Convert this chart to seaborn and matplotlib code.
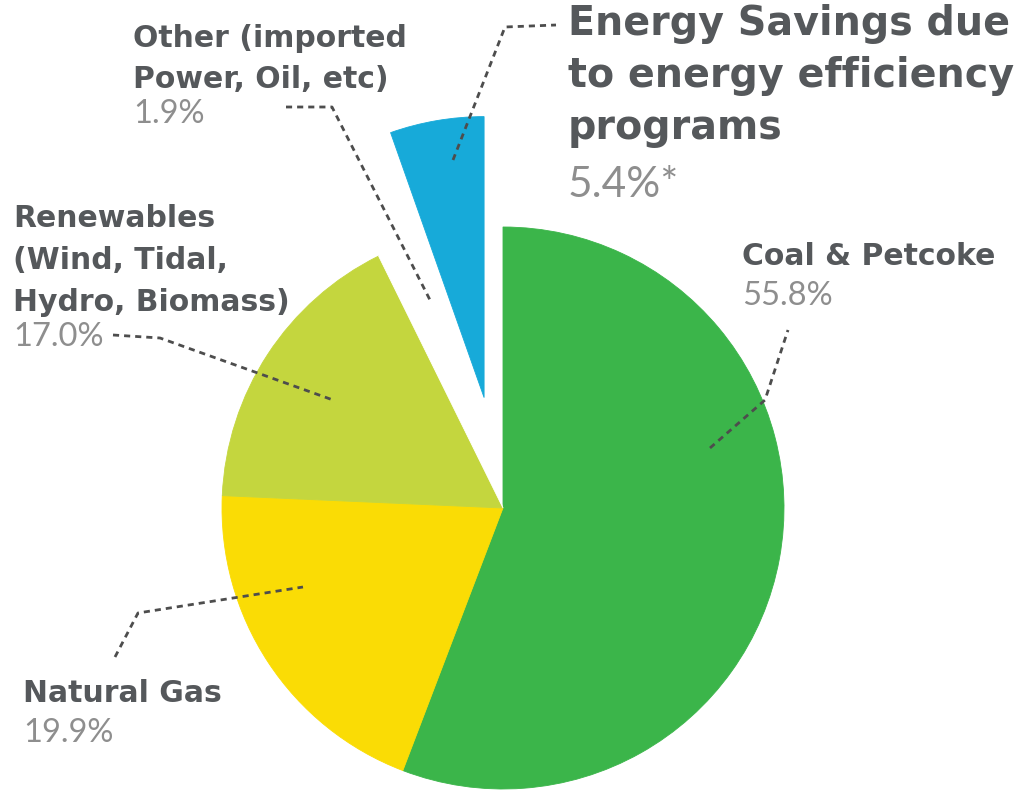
import matplotlib
matplotlib.use("Agg")
import matplotlib.pyplot as plt
import seaborn as sns

# ---------- data ----------
sources = ["Coal & Petcoke", "Natural Gas", "Renewables", "Other", "Energy Savings"]
shares = [55.8, 19.9, 17.0, 1.9, 5.4]
pct_labels = ["55.8%", "19.9%", "17.0%", "1.9%", "5.4%*"]
name_lines = [
    ["Coal & Petcoke"],
    ["Natural Gas"],
    ["Renewables", "(Wind, Tidal,", "Hydro, Biomass)"],
    ["Other (imported", "Power, Oil, etc)"],
    ["Energy Savings due", "to energy efficiency", "programs"],
]
colors = ["#3BB54A", "#FADC05", "#C4D63E", "#FFFFFF", "#17AAD9"]

sns.set_theme(style="white")
plt.rcParams["font.family"] = ["DejaVu Sans"]

W, H = 1015, 790
fig = plt.figure(figsize=(W / 100, H / 100), dpi=100)
ax = fig.add_axes([0, 0, 1, 1])


def img(x, y):
    # picture pixel coords -> data coords (y up)
    return x, H - y


cx, cy = img(503, 508)
radius = 281
wedges, _ = ax.pie(
    shares,
    colors=colors,
    startangle=90,
    counterclock=False,
    radius=radius,
    center=(cx, cy),
    explode=[0, 0, 0, 0, 112],
    wedgeprops=dict(linewidth=0.6),
)
for w in wedges:
    w.set_edgecolor(w.get_facecolor())
ax.set_xlim(0, W)
ax.set_ylim(0, H)
ax.set_aspect("equal")
ax.axis("off")

# label layout: (left x, first baseline y, line step, font size, pct gap)
layout = {
    "Coal & Petcoke": (742, 265, 40, 21.5, 40),
    "Natural Gas": (23, 702, 40, 21.5, 40),
    "Renewables": (13, 227, 42, 21.5, 35),
    "Other": (133, 47, 41, 21.5, 35),
    "Energy Savings": (568, 35, 52, 28.5, 58),
}
leaders = {
    "Coal & Petcoke": [(710, 448), (765, 400), (788, 330)],
    "Natural Gas": [(115, 657), (138, 613), (303, 587)],
    "Renewables": [(113, 335), (160, 338), (333, 400)],
    "Other": [(286, 107), (332, 107), (430, 300)],
    "Energy Savings": [(453, 160), (505, 27), (556, 25)],
}

for src, lines, pct in zip(sources, name_lines, pct_labels):
    x0, y0, step, fs, gap = layout[src]
    for i, line in enumerate(lines):
        ax.text(*img(x0, y0 + i * step), line, fontsize=fs, fontweight="bold",
                color="#55585B", ha="left", va="baseline")
    ax.text(*img(x0, y0 + (len(lines) - 1) * step + gap), pct,
            fontsize=fs + 2, family=["Lato", "DejaVu Sans"], fontweight="normal",
            color="#8E8E8E", ha="left", va="baseline")
    pts = [img(px, py) for px, py in leaders[src]]
    ax.plot([p[0] for p in pts], [p[1] for p in pts], color="#4D4D4D",
            linewidth=2, linestyle=(0, (2.2, 1.8)), solid_capstyle="butt")

fig.savefig("out.png", dpi=100, facecolor="white")
